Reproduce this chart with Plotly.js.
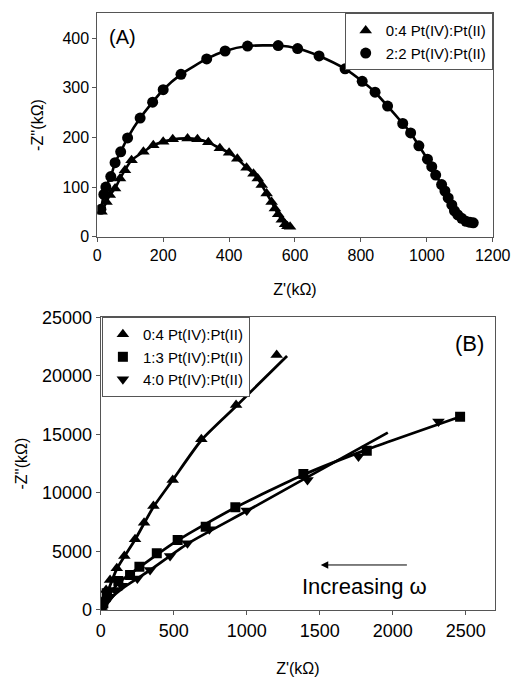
<!DOCTYPE html>
<html>
<head>
<meta charset="utf-8">
<script src="https://cdn.plot.ly/plotly-3.0.1.min.js"></script>
<style>html,body{margin:0;padding:0;background:#fff;}#chart{width:512px;height:677px;}</style>
</head>
<body>
<div id="chart"></div>
<script>
// ---- Panel A data ----
const a04_x = [13,28,38,54,69,84,104,140,170,200,229,274,304,337,372,400,425,453,474,487,499,514,529,539,549,560,570,577,585];
const a04_y = [50,70,84,97,117,134,154,171,184,191,196,198,196,190,178,169,157,139,127,117,104,87,70,57,45,34,25,21,20];
const a22_x = [11,20,26,41,54,71,92,130,168,200,254,332,388,456,549,608,673,752,804,843,881,927,951,976,1002,1015,1027,1045,1055,1065,1076,1084,1094,1106,1119,1131,1141];
const a22_y = [55,85,100,121,149,171,199,239,271,296,327,358,374,384,385,379,364,338,313,291,263,228,209,183,156,141,124,105,92,78,64,52,44,37,31,29,28];

// ---- Panel B data ----
const b04_x = [7,18,37,64,110,162,235,297,361,493,689,927,1205];
const b04_y = [280,850,1710,2560,3560,4610,6040,7460,8880,11100,14580,17510,21780];
const b13_x = [7,18,41,121,201,265,384,527,719,922,1388,1822,2461];
const b13_y = [140,570,1420,2480,2990,3700,4840,5980,7120,8770,11620,13610,16510];
const b40_x = [7,30,64,98,144,251,338,475,594,744,1000,1416,1765,2313];
const b40_y = [140,570,1140,1710,2080,2680,3420,4610,5690,6890,8490,11100,13100,16090];
// fitted curves (B)
const f04_x = [0,40,110,235,361,493,689,927,1276];
const f04_y = [0,1300,3500,6000,8800,11100,14500,17400,21700];
const f13_x = [0,60,121,265,527,922,1388,1822,2461];
const f13_y = [0,1300,2300,3650,5950,8750,11550,13700,16510];
const f40_x = [0,60,144,338,594,1000,1416,1966];
const f40_y = [0,900,1800,3400,5650,8450,11350,15150];

const lab04 = '0:4 Pt(IV):Pt(II)';
const lab22 = '2:2 Pt(IV):Pt(II)';
const lab13 = '1:3 Pt(IV):Pt(II)';
const lab40 = '4:0 Pt(IV):Pt(II)';

const FONT = 'Liberation Sans, Arial, sans-serif';
const black = '#000';

const traces = [
  {x:a04_x, y:a04_y, mode:'lines', xaxis:'x', yaxis:'y', showlegend:false, hoverinfo:'skip',
   line:{color:black, width:2.6, shape:'spline', smoothing:0.6}},
  {x:a22_x, y:a22_y, mode:'lines', xaxis:'x', yaxis:'y', showlegend:false, hoverinfo:'skip',
   line:{color:black, width:2.6, shape:'spline', smoothing:0.6}},
  {x:a04_x, y:a04_y, name:lab04, mode:'markers', xaxis:'x', yaxis:'y', legend:'legend',
   marker:{symbol:'triangle-up', size:11, color:black}},
  {x:a22_x, y:a22_y, name:lab22, mode:'markers', xaxis:'x', yaxis:'y', legend:'legend',
   marker:{symbol:'circle', size:11, color:black}},
  {x:f04_x, y:f04_y, mode:'lines', xaxis:'x2', yaxis:'y2', showlegend:false,
   line:{color:black, width:2.8, shape:'spline', smoothing:0.6}, hoverinfo:'skip'},
  {x:f13_x, y:f13_y, mode:'lines', xaxis:'x2', yaxis:'y2', showlegend:false,
   line:{color:black, width:2.8, shape:'spline', smoothing:0.6}, hoverinfo:'skip'},
  {x:f40_x, y:f40_y, mode:'lines', xaxis:'x2', yaxis:'y2', showlegend:false,
   line:{color:black, width:2.8, shape:'spline', smoothing:0.6}, hoverinfo:'skip'},
  {x:b04_x, y:b04_y, name:lab04, mode:'markers', xaxis:'x2', yaxis:'y2', legend:'legend2',
   marker:{symbol:'triangle-up', size:11, color:black}},
  {x:b13_x, y:b13_y, name:lab13, mode:'markers', xaxis:'x2', yaxis:'y2', legend:'legend2',
   marker:{symbol:'square', size:10, color:black}},
  {x:b40_x, y:b40_y, name:lab40, mode:'markers', xaxis:'x2', yaxis:'y2', legend:'legend2',
   marker:{symbol:'triangle-down', size:11, color:black}}
];

const axCommon = {
  showgrid:false, zeroline:false, showline:true, linecolor:'#555', linewidth:1,
  mirror:true, ticks:'outside', ticklen:4, tickcolor:'#555', tickformat:'d',
  tickfont:{family:FONT, size:16, color:black}
};

const layout = {
  width:512, height:677,
  margin:{l:0, r:0, t:0, b:0},
  paper_bgcolor:'#fff', plot_bgcolor:'#fff',
  font:{family:FONT, color:black},
  showlegend:true,
  xaxis:Object.assign({}, axCommon, {domain:[0.190, 0.9623], range:[0,1200], dtick:200, anchor:'y',
    title:{text:"Z'(kΩ)", font:{family:FONT, size:16}, standoff:20}}),
  yaxis:Object.assign({}, axCommon, {domain:[0.6504, 0.9804], range:[0,450], tickvals:[0,100,200,300,400], anchor:'x',
    title:{text:"-Z''(kΩ)", font:{family:FONT, size:16}, standoff:14}}),
  xaxis2:Object.assign({}, axCommon, {domain:[0.1967, 0.9668], range:[0,2700], tickvals:[0,500,1000,1500,2000,2500], anchor:'y2',
    tickfont:{family:FONT, size:18, color:black},
    title:{text:"Z'(kΩ)", font:{family:FONT, size:16}, standoff:25}}),
  yaxis2:Object.assign({}, axCommon, {domain:[0.0990, 0.5313], range:[0,25000], dtick:5000, anchor:'x2',
    tickfont:{family:FONT, size:18, color:black},
    title:{text:"-Z''(kΩ)", font:{family:FONT, size:16}, standoff:10}}),
  legend:{x:0.9623, xanchor:'right', y:0.9804, yanchor:'top', bgcolor:'#fff',
    bordercolor:'#555', borderwidth:1, font:{family:FONT, size:15, color:black}, tracegroupgap:0},
  legend2:{x:0.199, xanchor:'left', y:0.5317, yanchor:'top', bgcolor:'#fff',
    bordercolor:'#555', borderwidth:1, font:{family:FONT, size:15, color:black}, tracegroupgap:0},
  annotations:[
    {x:77, y:403, xref:'x', yref:'y', text:'(A)', showarrow:false, font:{family:FONT, size:20, color:black}},
    {x:2523, y:22720, xref:'x2', yref:'y2', text:'(B)', showarrow:false, font:{family:FONT, size:22, color:black}},
    {x:1507, y:3844, ax:2107, ay:3844, xref:'x2', yref:'y2', axref:'x2', ayref:'y2', text:'', showarrow:true,
     arrowhead:2, arrowsize:1.5, arrowwidth:1, arrowcolor:black},
    {x:1804, y:1990, xref:'x2', yref:'y2', text:'Increasing ω', showarrow:false, font:{family:FONT, size:22, color:black}}
  ]
};

Plotly.newPlot('chart', traces, layout, {displayModeBar:false, staticPlot:true});
</script>
</body>
</html>
